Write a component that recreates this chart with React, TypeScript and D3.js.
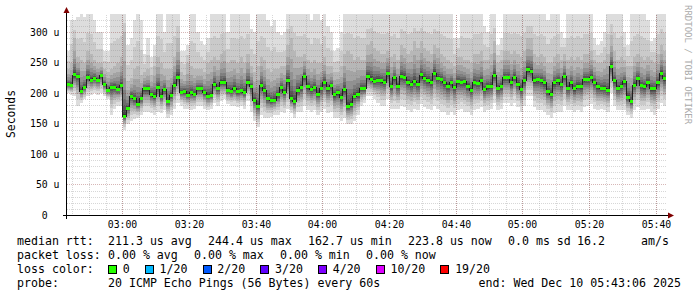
import React from "react";
import * as d3 from "d3";

// ---------- data ----------
const START_MS = Date.UTC(2025, 11, 10, 2, 43, 6);
const END_MS = Date.UTC(2025, 11, 10, 5, 43, 6);
const FIRST_COLUMN_MS = Date.UTC(2025, 11, 10, 2, 43, 0);
const STEP_SECONDS = 60;
const Y_MAX = 330; // microseconds

// median rtt per 60 s step (microseconds)
const medianRtt = [
  214.9, 213.2, 230.1, 227.9, 203.4, 210.0, 226.8, 221.4, 224.7, 221.4,
  229.6, 214.9, 205.1, 210.0, 210.0, 206.7, 213.2, 162.7, 175.7, 195.3,
  190.8, 182.2, 192.0, 207.2, 207.2, 198.5, 195.3, 210.0, 195.3, 206.7,
  187.1, 196.9, 213.7, 226.8, 201.8, 203.4, 196.9, 200.7, 198.5, 207.2,
  207.2, 200.7, 195.3, 196.9, 214.9, 207.2, 218.1, 218.1, 205.1, 202.9,
  208.3, 202.9, 203.9, 201.8, 218.1, 210.5, 188.7, 178.9, 213.7, 205.1,
  190.8, 187.6, 188.7, 197.4, 209.5, 201.8, 220.3, 190.8, 186.6, 205.1,
  209.5, 227.9, 210.5, 206.2, 209.5, 198.5, 208.3, 218.1, 207.2, 212.7,
  197.4, 200.7, 193.1, 206.2, 178.9, 182.2, 195.3, 197.4, 207.2, 207.2,
  227.9, 223.5, 219.3, 221.4, 220.3, 218.1, 232.4, 210.5, 225.8, 211.6,
  227.9, 226.8, 218.1, 214.9, 219.3, 214.9, 230.1, 224.7, 221.4, 218.1,
  233.3, 224.7, 222.5, 217.0, 211.6, 218.1, 209.5, 219.3, 218.1, 219.3,
  211.6, 205.1, 218.1, 216.0, 220.3, 206.2, 210.5, 211.6, 229.1, 208.3,
  210.5, 225.8, 225.8, 217.0, 226.3, 214.9, 206.2, 220.3, 238.9, 236.6,
  220.3, 222.5, 220.3, 217.0, 202.9, 198.5, 217.0, 220.3, 214.9, 227.9,
  208.3, 217.0, 207.2, 211.6, 210.5, 222.5, 222.5, 226.8, 218.1, 210.5,
  208.3, 208.3, 205.1, 244.4, 220.3, 208.3, 211.6, 219.3, 193.1, 186.6,
  213.7, 224.7, 212.7, 210.5, 218.1, 207.2, 207.2, 217.0, 232.6, 223.8,
];

// highest ping per step
const pingHigh = [
  270, 320, 320, 325, 335, 325, 335, 335, 320, 300,
  300, 270, 270, 335, 335, 335, 335, 335, 280, 290,
  320, 335, 320, 265, 290, 260, 280, 335, 335, 300,
  335, 335, 335, 335, 270, 270, 280, 335, 335, 300,
  285, 280, 290, 335, 335, 335, 335, 335, 300, 335,
  335, 335, 335, 335, 335, 305, 300, 335, 335, 335,
  320, 310, 320, 300, 295, 300, 335, 335, 335, 335,
  335, 335, 335, 320, 335, 335, 320, 335, 310, 300,
  270, 275, 300, 335, 335, 335, 335, 335, 335, 335,
  335, 335, 335, 335, 335, 335, 335, 335, 335, 335,
  335, 335, 335, 335, 335, 335, 335, 335, 335, 335,
  335, 335, 335, 335, 335, 335, 290, 290, 335, 335,
  335, 335, 335, 335, 335, 310, 300, 335, 335, 280,
  290, 335, 335, 335, 335, 335, 335, 335, 335, 335,
  335, 335, 335, 335, 320, 335, 335, 335, 300, 290,
  335, 335, 335, 335, 335, 335, 335, 335, 290, 280,
  285, 300, 335, 335, 335, 335, 335, 300, 280, 335,
  335, 335, 335, 335, 320, 285, 290, 335, 335, 335,
];

// upper ping (top of the medium grey smoke)
const pingUpper = [
  240, 250, 290, 260, 255, 250, 270, 265, 255, 250,
  250, 240, 235, 240, 245, 250, 260, 300, 220, 225,
  240, 245, 230, 235, 240, 230, 245, 260, 250, 240,
  240, 240, 260, 290, 235, 230, 250, 245, 240, 240,
  240, 235, 250, 255, 260, 255, 265, 270, 250, 255,
  255, 250, 260, 250, 265, 245, 235, 245, 260, 255,
  240, 235, 240, 240, 245, 245, 280, 290, 270, 260,
  260, 265, 255, 250, 255, 250, 250, 260, 245, 245,
  235, 235, 245, 265, 270, 265, 255, 260, 255, 255,
  280, 285, 275, 270, 265, 265, 270, 260, 265, 255,
  280, 275, 265, 270, 285, 275, 285, 275, 270, 265,
  280, 275, 265, 260, 255, 250, 245, 260, 260, 255,
  255, 250, 265, 265, 270, 255, 255, 265, 285, 250,
  255, 270, 270, 265, 270, 265, 260, 270, 290, 290,
  265, 260, 265, 260, 250, 250, 260, 265, 255, 265,
  255, 260, 255, 260, 255, 265, 265, 270, 255, 250,
  250, 255, 265, 295, 270, 255, 260, 255, 245, 245,
  260, 265, 260, 255, 260, 255, 250, 265, 280, 270,
];

// lowest ping per step
const pingLow = [
  200, 198, 195, 180, 185, 190, 195, 198, 200, 198,
  200, 195, 190, 165, 175, 180, 180, 140, 150, 155,
  158, 160, 165, 170, 170, 168, 165, 170, 168, 172,
  160, 165, 175, 185, 180, 175, 175, 172, 175, 180,
  180, 175, 172, 175, 185, 180, 188, 190, 182, 180,
  180, 178, 180, 175, 188, 170, 155, 145, 165, 160,
  160, 162, 165, 165, 170, 168, 175, 168, 160, 170,
  170, 180, 172, 170, 172, 165, 170, 175, 168, 170,
  160, 160, 155, 160, 150, 150, 155, 165, 180, 185,
  195, 195, 190, 185, 180, 180, 190, 175, 175, 175,
  180, 178, 172, 170, 175, 172, 182, 178, 175, 172,
  180, 175, 170, 170, 165, 170, 165, 172, 175, 170,
  170, 165, 172, 175, 178, 170, 172, 175, 185, 172,
  175, 185, 185, 180, 185, 178, 170, 180, 195, 195,
  178, 172, 172, 170, 165, 160, 168, 170, 170, 180,
  172, 172, 170, 172, 170, 178, 180, 182, 175, 172,
  175, 172, 170, 200, 180, 172, 172, 172, 165, 160,
  172, 178, 172, 172, 175, 170, 165, 175, 185, 180,
];

const yMajorTicks = [0, 50, 100, 150, 200, 250, 300];
const yTickLabels = ["  0  ", " 50 u", "100 u", "150 u", "200 u", "250 u", "300 u"];

const medianLegend = ["median rtt:", "211.3 us avg", "244.4 us max", "162.7 us min", "223.8 us now", "0.0 ms sd", "16.2", "am/s"];
const lossLegend = ["packet loss:", "0.00 % avg", "0.00 % max", "0.00 % min", "0.00 % now"];
const lossColorLabels = ["0", "1/20", "2/20", "3/20", "4/20", "10/20", "19/20"];
const lossColors = ["#26ff00", "#00b8ff", "#0059ff", "#5e00ff", "#7e00ff", "#dd00ff", "#ff0000"];
const probeLegend = ["probe:", "20 ICMP Echo Pings (56 Bytes) every 60s", "end: Wed Dec 10 05:43:06 2025"];

// ---------- layout ----------
const W = 697;
const H = 297;
const PLOT_L = 66.5;
const PLOT_R = 666.5;
const PLOT_T = 14;
const PLOT_B = 215.5;
const MONO = "'DejaVu Sans Mono', monospace";
const LEGEND_FS = 11.6;
const CHAR_W = LEGEND_FS * 0.602;

const UP_PROFILE = [0.03, 0.07, 0.13, 0.21, 0.31, 0.45, 0.66, 1.0];
const LOW_PROFILE = [0.02, 0.07, 0.13, 0.2, 0.28, 0.37, 0.48, 0.6, 0.76, 1.0];

function makePings(m: number, lo: number, up: number, hi: number): number[] {
  const p = new Array(20).fill(0);
  for (let k = 0; k < 10; k++) p[9 - k] = m - (m - lo) * LOW_PROFILE[k];
  for (let k = 0; k < 8; k++) p[10 + k] = m + (up - m) * UP_PROFILE[k];
  p[18] = up + (hi - up) * 0.45;
  p[19] = hi;
  return p;
}

const snap = (v: number) => Math.floor(v) + 0.5;

export default function App() {
  const x = d3.scaleUtc().domain([new Date(START_MS), new Date(END_MS)]).range([PLOT_L, PLOT_R]);
  const y = d3.scaleLinear().domain([0, Y_MAX]).range([PLOT_B, PLOT_T]);

  const colStart = (i: number) => new Date(FIRST_COLUMN_MS + i * STEP_SECONDS * 1000);
  const n = medianRtt.length;

  const pingSets = medianRtt.map((m, i) => makePings(m, pingLow[i], pingUpper[i], pingHigh[i]));

  type Pt = { t: Date; lo: number; hi: number };
  const area = d3
    .area<Pt>()
    .x((d) => x(d.t))
    .y0((d) => y(d.lo))
    .y1((d) => y(d.hi))
    .curve(d3.curveStepAfter);

  const bands = d3.range(10).map((b) => {
    const pts: Pt[] = pingSets.map((p, i) => ({ t: colStart(i), lo: p[b], hi: p[19 - b] }));
    const last = pingSets[n - 1];
    pts.push({ t: colStart(n), lo: last[b], hi: last[19 - b] });
    const g = Math.floor((190 / 10) * (9 - b)) + 50;
    return { d: area(pts) || "", color: `rgb(${g},${g},${g})` };
  });

  type MPt = { t: Date; v: number };
  const medPts: MPt[] = medianRtt.map((v, i) => ({ t: colStart(i), v }));
  medPts.push({ t: colStart(n), v: medianRtt[n - 1] });
  const medLine = d3
    .line<MPt>()
    .x((d) => x(d.t))
    .y((d) => y(d.v))
    .curve(d3.curveStepAfter)(medPts) || "";

  const t0 = new Date(START_MS);
  const t1 = new Date(END_MS);
  const minorX = d3.utcMinute.every(5)!.range(t0, t1);
  const majorX = d3.utcMinute.every(20)!.range(t0, t1);
  const fmt = d3.utcFormat("%H:%M");
  const minorY = d3.range(10, Y_MAX, 10).filter((v) => v % 50 !== 0);
  const majorY = yMajorTicks.filter((v) => v > 0);

  const minorStroke = "rgba(140,140,140,0.35)";
  const majorStroke = "rgba(130,30,30,0.32)";

  let cursor = 108.5;
  const lossItems = lossColorLabels.map((lab, i) => {
    const bx = cursor;
    const tx = bx + 14.2;
    cursor = tx + lab.length * CHAR_W + 15.6;
    return { lab, color: lossColors[i], bx, tx };
  });

  const line1X = [17, 108, 208, 308, 408, 508, 577, 641];
  const line2X = [17, 108, 194, 280, 366];
  const line4X = [17, 108, 478.5];

  return (
    <svg
      width={W}
      height={H}
      viewBox={`0 0 ${W} ${H}`}
      style={{ position: "absolute", left: 0, top: 0, background: "#ffffff" }}
    >
      <rect x={0} y={0} width={W} height={H} fill="#ffffff" />
      <defs>
        <clipPath id="plotClip">
          <rect x={67} y={PLOT_T} width={600} height={PLOT_B - PLOT_T} />
        </clipPath>
      </defs>

      <g clipPath="url(#plotClip)">
        {bands.map((b, i) => (
          <path key={i} d={b.d} fill={b.color} shapeRendering="crispEdges" />
        ))}
      </g>

      <g strokeWidth={1} strokeDasharray="1,1" shapeRendering="crispEdges">
        {minorX.map((t, i) => (
          <line key={"mx" + i} x1={snap(x(t))} x2={snap(x(t))} y1={PLOT_B} y2={PLOT_T} stroke={minorStroke} />
        ))}
        {minorY.map((v, i) => (
          <line key={"my" + i} x1={67} x2={667} y1={snap(y(v))} y2={snap(y(v))} stroke={minorStroke} />
        ))}
        {majorX.map((t, i) => (
          <line key={"Mx" + i} x1={snap(x(t))} x2={snap(x(t))} y1={PLOT_B} y2={PLOT_T} stroke={majorStroke} />
        ))}
        {majorY.map((v, i) => (
          <line key={"My" + i} x1={67} x2={667} y1={snap(y(v))} y2={snap(y(v))} stroke={majorStroke} />
        ))}
      </g>

      <g clipPath="url(#plotClip)">
        <path d={medLine} fill="none" stroke="#202020" strokeWidth={1} shapeRendering="crispEdges" />
        {medianRtt.map((v, i) => {
          const xa = x(colStart(i));
          const xb = x(colStart(i + 1));
          return (
            <rect
              key={i}
              x={xa}
              y={y(v) - 1.5}
              width={xb - xa}
              height={3}
              fill={lossColors[0]}
              shapeRendering="crispEdges"
            />
          );
        })}
      </g>

      <line x1={63} x2={670} y1={215.5} y2={215.5} stroke="#000" strokeWidth={1} shapeRendering="crispEdges" />
      <line x1={66.5} x2={66.5} y1={219} y2={10} stroke="#000" strokeWidth={1} shapeRendering="crispEdges" />
      <polygon points="668,212.5 674,215.5 668,218.5" fill="#7f0000" />
      <polygon points="63.5,13 66.5,7 69.5,13" fill="#7f0000" />

      <g fontFamily={MONO} fontSize={9.8} fill="#000">
        {yMajorTicks.map((v, i) => (
          <text key={v} x={30} y={snap(y(v)) + 3.5} style={{ whiteSpace: "pre" }}>
            {yTickLabels[i]}
          </text>
        ))}
        {majorX.map((t, i) => (
          <text key={"xl" + i} x={snap(x(t))} y={227.5} textAnchor="middle">
            {fmt(t)}
          </text>
        ))}
      </g>

      <text
        transform="translate(15,114) rotate(-90)"
        textAnchor="middle"
        fontFamily={MONO}
        fontSize={11.4}
        fill="#000"
      >
        Seconds
      </text>

      <text transform="translate(685,5) rotate(90)" fontFamily={MONO} fontSize={9} fill="#aaaaaa">
        RRDTOOL / TOBI OETIKER
      </text>

      <g fontFamily={MONO} fontSize={LEGEND_FS} fill="#000" style={{ whiteSpace: "pre" }}>
        {medianLegend.map((s, i) => (
          <text key={"l1" + i} x={line1X[i]} y={245}>
            {s}
          </text>
        ))}
        {lossLegend.map((s, i) => (
          <text key={"l2" + i} x={line2X[i]} y={259}>
            {s}
          </text>
        ))}
        <text x={17} y={273}>
          loss color:
        </text>
        {lossItems.map((it) => (
          <g key={it.lab}>
            <rect x={it.bx} y={265.5} width={8} height={8} fill={it.color} stroke="#000" strokeWidth={1} shapeRendering="crispEdges" />
            <text x={it.tx} y={273}>
              {it.lab}
            </text>
          </g>
        ))}
        {probeLegend.map((s, i) => (
          <text key={"l4" + i} x={line4X[i]} y={287}>
            {s}
          </text>
        ))}
      </g>
    </svg>
  );
}
